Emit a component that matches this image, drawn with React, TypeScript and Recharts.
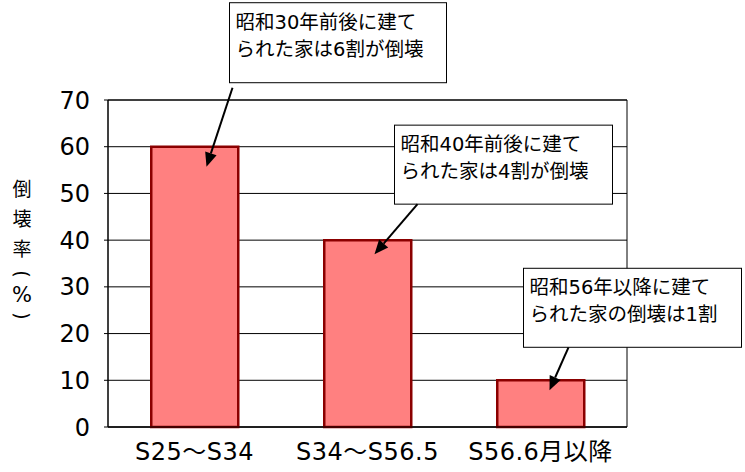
import React from 'react';
import {
  BarChart,
  Bar,
  XAxis,
  YAxis,
  CartesianGrid,
  ReferenceArea,
  ReferenceDot
} from 'recharts';

// Data
const categories = ['S25～S34', 'S34～S56.5', 'S56.6月以降'];
const collapseRates = [60, 40, 10];
const yTicks = [0, 10, 20, 30, 40, 50, 60, 70];
const boundaryTicks = [1, 2];
const noteLines = [
  ['昭和30年前後に建て', 'られた家は6割が倒壊'],
  ['昭和40年前後に建て', 'られた家は4割が倒壊'],
  ['昭和56年以降に建て', 'られた家の倒壊は1割']
];
const yLabelChars = ['倒', '壊', '率', '(', '%', ')'];

const FONT = '"DejaVu Sans", "Noto Sans CJK JP", sans-serif';
const CJK = '"Noto Sans CJK JP", sans-serif';

if (typeof document !== 'undefined') {
  document.body.style.margin = '0';
}

const data = categories.map((name, i) => ({ name, rate: collapseRates[i] }));

// box / arrow offsets relative to the top centre of each bar
const calloutLayout = [
  { box: [35, -144, 217, 80], from: [38, -59], tip: [12, 20] },
  { box: [27, -115, 218, 79], from: [50, -36], tip: [7, 14] },
  { box: [-17, -112, 218, 79], from: [28, -33], tip: [9, 10] }
];

const Callout = ({ cx, cy, idx }: any) => {
  const l = calloutLayout[idx];
  const [bx, by, bw, bh] = l.box;
  const x0 = cx + l.from[0];
  const y0 = cy + l.from[1];
  const x1 = cx + l.tip[0];
  const y1 = cy + l.tip[1];
  const ang = Math.atan2(y1 - y0, x1 - x0);
  const len = 14;
  const half = 6;
  const baseX = x1 - len * Math.cos(ang);
  const baseY = y1 - len * Math.sin(ang);
  const px = -Math.sin(ang) * half;
  const py = Math.cos(ang) * half;
  return (
    <g>
      <rect x={cx + bx} y={cy + by} width={bw} height={bh} fill="#fff" stroke="#000" strokeWidth={1} />
      {noteLines[idx].map((t, k) => (
        <text
          key={k}
          x={cx + bx + 6}
          y={cy + by + 26 + k * 27}
          fontSize={19.5}
          fontFamily={FONT}
          fill="#000"
        >
          {t}
        </text>
      ))}
      <line x1={x0} y1={y0} x2={baseX} y2={baseY} stroke="#000" strokeWidth={2} />
      <polygon
        points={`${x1},${y1} ${baseX + px},${baseY + py} ${baseX - px},${baseY - py}`}
        fill="#000"
      />
    </g>
  );
};

const yLabelCenters = [187, 217, 247, 274, 295, 316];

const YLabel = () => (
  <g>
    {yLabelChars.map((c, i) => {
      const y = yLabelCenters[i];
      const paren = c === '(' || c === ')';
      const cjk = i < 3;
      return (
        <text
          key={i}
          x={22}
          y={y}
          textAnchor="middle"
          dominantBaseline="central"
          fontSize={cjk ? 19 : paren ? 19 : 21}
          fontFamily={cjk ? CJK : FONT}
          fill="#000"
          transform={paren ? `rotate(90, 22, ${y})` : undefined}
        >
          {c}
        </text>
      );
    })}
  </g>
);

export default function App() {
  return (
    <BarChart
      width={745}
      height={472}
      data={data}
      margin={{ top: 100, right: 118, left: 0, bottom: 0 }}
      barCategoryGap="25%"
    >
      <CartesianGrid vertical={false} stroke="#000" />
      <XAxis
        xAxisId="bounds"
        type="number"
        domain={[0, 3]}
        ticks={boundaryTicks}
        height={0}
        mirror
        tick={false}
        axisLine={false}
        tickSize={5}
        stroke="#000"
      />
      <XAxis
        dataKey="name"
        height={45}
        tickLine={false}
        tickSize={0}
        tickMargin={16}
        axisLine={{ stroke: '#000' }}
        tick={{ fill: '#000', fontSize: 24, fontFamily: FONT, letterSpacing: 0.5 }}
        interval={0}
      />
      <YAxis
        width={108}
        domain={[0, 70]}
        ticks={yTicks}
        tickSize={4}
        tickMargin={14}
        axisLine={{ stroke: '#000' }}
        tickLine={{ stroke: '#000' }}
        tick={{ fill: '#000', fontSize: 24, fontFamily: FONT }}
        label={<YLabel />}
      />
      <ReferenceArea y1={0} y2={70} fill="none" stroke="#000" strokeWidth={1} />
      <Bar
        dataKey="rate"
        fill="#FF8080"
        stroke="#8B0000"
        strokeWidth={2.5}
        isAnimationActive={false}
      />
      {data.map((d, i) => (
        <ReferenceDot
          key={d.name}
          x={d.name}
          y={d.rate}
          r={1}
          ifOverflow="visible"
          shape={(p: any) => <Callout {...p} idx={i} />}
        />
      ))}
    </BarChart>
  );
}
